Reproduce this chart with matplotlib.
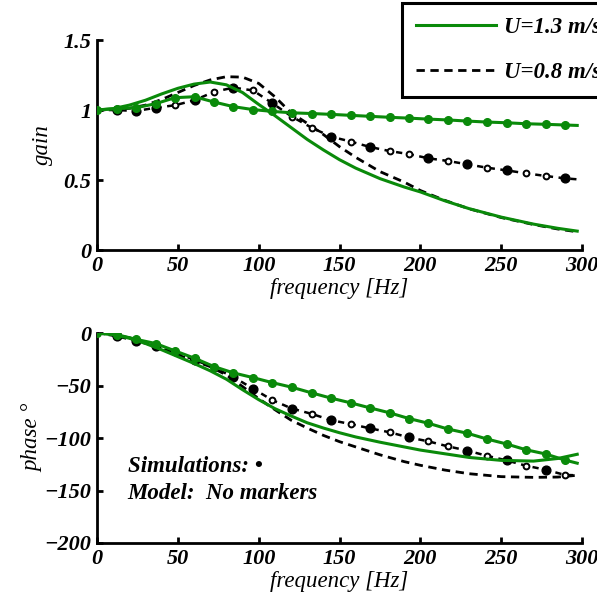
import matplotlib
matplotlib.use("Agg")
import matplotlib.pyplot as plt
from matplotlib.lines import Line2D

plt.rcParams['font.family'] = ['Liberation Serif', 'DejaVu Serif']
plt.rcParams['font.weight'] = 'bold'
plt.rcParams['font.style'] = 'italic'

# ---------------- data ----------------
freq_model = [0, 10, 20, 30, 40, 50, 60, 70, 80, 90, 100, 110, 120, 130, 140, 150,
              160, 175, 190, 200, 215, 230, 250, 270, 285, 297]
gain_model_13 = [1.0, 1.01, 1.035, 1.07, 1.115, 1.155, 1.185, 1.2, 1.18, 1.125, 1.04, 0.96,
                 0.875, 0.79, 0.715, 0.645, 0.585, 0.51, 0.45, 0.415, 0.352, 0.296, 0.235,
                 0.185, 0.155, 0.135]
gain_model_08 = [1.0, 1.003, 1.012, 1.035, 1.075, 1.125, 1.175, 1.215, 1.238, 1.235, 1.19,
                 1.095, 0.98, 0.905, 0.825, 0.738, 0.662, 0.56, 0.485, 0.425, 0.355, 0.295,
                 0.232, 0.182, 0.15, 0.13]
phase_model_13 = [0, -1.5, -5, -10, -16, -22.5, -29, -36, -44, -54, -63.5, -72, -79, -85.5,
                  -90.5, -95, -99, -104, -108.5, -111.5, -115, -118.5, -121.3, -122, -119.5,
                  -115.5]
phase_model_08 = [0, -1.8, -4.5, -9.5, -15, -21, -26.5, -32, -40, -51, -62.5, -73, -83, -90.5,
                  -97.5, -103.5, -108.5, -116, -122.5, -126, -130.5, -134, -136.8, -137.5,
                  -137.2, -135.5]

freq_sim = [0, 12.1, 24.1, 36.2, 48.2, 60.3, 72.4, 84.4, 96.5, 108.5, 120.6, 132.7, 144.7,
            156.8, 168.8, 180.9, 193.0, 205.0, 217.1, 229.1, 241.2, 253.3, 265.3, 277.4,
            289.4, 297]
gain_sim_13 = [1.0, 1.01, 1.016, 1.045, 1.088, 1.095, 1.057, 1.024, 1.003, 0.99, 0.98, 0.975,
               0.969, 0.962, 0.955, 0.948, 0.942, 0.935, 0.929, 0.921, 0.914, 0.909, 0.902,
               0.898, 0.893, 0.89]
gain_sim_08 = [1.0, 1.0, 0.993, 1.016, 1.034, 1.07, 1.13, 1.16, 1.14, 1.048, 0.952, 0.874,
               0.81, 0.775, 0.736, 0.707, 0.685, 0.655, 0.636, 0.612, 0.588, 0.569, 0.548,
               0.529, 0.512, 0.505]
phase_sim_13 = [0, -1.5, -6, -10, -17, -24, -32, -38, -42.5, -47.3, -51.7, -57, -62, -66.5,
                -71.3, -76, -81.5, -86, -91.5, -95.5, -101, -105.7, -111.2, -115.2, -121, -124]
phase_sim_08 = [0, -3, -7.5, -12.5, -18.5, -25.5, -33, -42, -53, -64, -72, -77, -83, -86.7,
                -90.8, -94.5, -99.5, -103.2, -108, -112, -117, -121.3, -126.4, -130.2,
                -135.2, -135.5]
filled_gain_idx = [1, 2, 3, 5, 7, 9, 12, 14, 17, 19, 21, 24]
filled_phase_idx = [1, 2, 3, 5, 7, 8, 10, 12, 14, 16, 19, 21, 23]

xticks = [0, 50, 100, 150, 200, 250, 300]
gain_ticks = [0, 0.5, 1, 1.5]
gain_ticklabels = ['0', '0.5', '1', '1.5']
phase_ticks = [0, -50, -100, -150, -200]
legend_labels = ['U=1.3 m/s', 'U=0.8 m/s']

GREEN = '#0a8a0a'
FS = 16.5

fig = plt.figure(figsize=(5.97, 6.0), dpi=100)
ax1 = fig.add_axes([0.1625, 0.5833, 0.8125, 0.35])
ax2 = fig.add_axes([0.1625, 0.095, 0.8125, 0.35])


def draw(ax, m13, m08, s13, s08, filled):
    nsim = len(freq_sim) - 1
    open_idx = [i for i in range(nsim) if i not in filled]
    ax.plot(freq_model, m08, color='black', lw=2.0, dashes=(3, 2), zorder=2)
    ax.plot(freq_sim, s08, color='black', lw=1.8, dashes=(2.5, 2.2), marker='o',
            markevery=open_idx, ms=4.2, mfc='white', mec='black', mew=1.4, zorder=3)
    ax.plot(freq_sim, s08, ls='none', marker='o', markevery=filled, ms=6.3,
            color='black', zorder=3)
    ax.plot(freq_model, m13, color=GREEN, lw=2.2, zorder=4)
    ax.plot(freq_sim, s13, color=GREEN, lw=2.2, marker='o', markevery=list(range(nsim)),
            ms=5.5, mfc=GREEN, mec=GREEN, zorder=5)
    ax.set_xlim(0, 300)
    ax.set_xticks(xticks)
    for s in ['top', 'right']:
        ax.spines[s].set_visible(False)
    for s in ['left', 'bottom']:
        ax.spines[s].set_linewidth(2.0)
    ax.tick_params(direction='in', length=4, width=2.0, labelsize=16, pad=4)
    ax.set_xlabel('frequency [Hz]', fontsize=FS, labelpad=1.5)


draw(ax1, gain_model_13, gain_model_08, gain_sim_13, gain_sim_08, filled_gain_idx)
ax1.set_ylim(0, 1.5)
ax1.set_yticks(gain_ticks)
ax1.set_yticklabels(gain_ticklabels)
ax1.set_ylabel('gain', fontsize=FS, labelpad=7.5)

draw(ax2, phase_model_13, phase_model_08, phase_sim_13, phase_sim_08, filled_phase_idx)
ax2.set_ylim(-200, 0)
ax2.set_yticks(phase_ticks)
ax2.set_ylabel('phase °', fontsize=FS, labelpad=1)

ax2.text(19, -127.6, 'Simulations: •', fontsize=FS, va='center', ha='left')
ax2.text(19, -153, 'Model:  No markers', fontsize=FS, va='center', ha='left')

handles = [Line2D([], [], color=GREEN, lw=2.2),
           Line2D([], [], color='black', lw=2.0, dashes=(3, 2))]
leg = fig.legend(handles, legend_labels, loc='upper left', bbox_to_anchor=(0.673, 0.995),
                 fontsize=FS, frameon=True, fancybox=False, framealpha=1, edgecolor='black',
                 borderaxespad=0, handlelength=3.5, handletextpad=0.35, labelspacing=1.05,
                 borderpad=0.6)
leg.get_frame().set_linewidth(2.2)

fig.savefig('out.png', dpi=100)
